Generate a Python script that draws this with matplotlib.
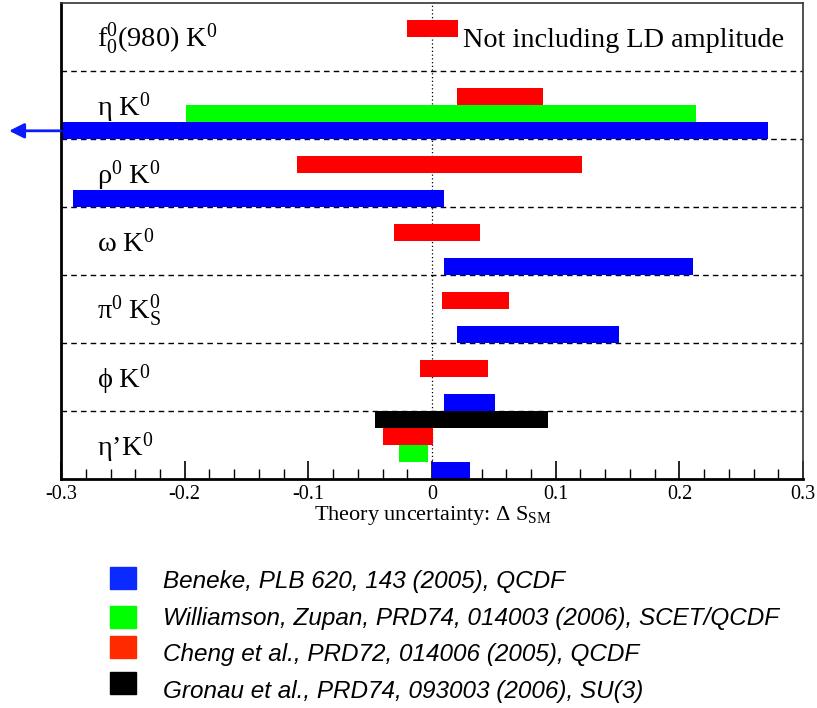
#!/usr/bin/env python3
"""Theory uncertainty Delta S_SM for b -> s penguin modes."""

import matplotlib

matplotlib.use("Agg")

import matplotlib.pyplot as plt
from matplotlib.patches import Rectangle

# rows from top to bottom
MODES = [
    r"$\mathregular{f_0^0(980)\ K^0}$",
    r"$\mathregular{η\ K^0}$",
    r"$\mathregular{ρ^0\ K^0}$",
    r"$\mathregular{ω\ K^0}$",
    r"$\mathregular{π^0\ K_S^0}$",
    r"$\mathregular{ϕ\ K^0}$",
    r"$\mathregular{η’K^0}$",
]

# (low, high) ranges per mode, None where the paper gives nothing
GRONAU = [None, None, None, None, None, None, (-0.046, 0.094)]
CHENG = [(-0.020, 0.021), (0.020, 0.090), (-0.109, 0.121), (-0.031, 0.039),
         (0.008, 0.062), (-0.010, 0.045), (-0.040, 0.001)]
WILLIAMSON = [None, (-0.199, 0.213), None, None, None, None, (-0.027, -0.003)]
BENEKE = [None, (-0.36, 0.272), (-0.290, 0.010), (0.010, 0.211),
          (0.020, 0.151), (0.010, 0.051), (0.000, 0.031)]

SOURCES = [
    ("Gronau et al., PRD74, 093003 (2006), SU(3)", GRONAU, "black", "black"),
    ("Cheng et al., PRD72, 014006 (2005), QCDF", CHENG, "#ff0000", "#ff2a00"),
    ("Williamson, Zupan, PRD74, 014003 (2006), SCET/QCDF", WILLIAMSON, "#00ff00", "#00ff00"),
    ("Beneke, PLB 620, 143 (2005), QCDF", BENEKE, "#0000ff", "#0a2aff"),
]
LEGEND_ORDER = [3, 2, 1, 0]

plt.rcParams.update({
    "font.family": "Liberation Serif",
    "mathtext.fontset": "custom",
    "mathtext.rm": "Liberation Serif",
    "mathtext.it": "Liberation Serif:italic",
    "mathtext.default": "regular",
})

fig = plt.figure(figsize=(8.17, 7.08), dpi=100)
ax = fig.add_axes([0.0747, 0.3235, 0.9083, 0.6723])

slot_h = 0.25
for slot, (_, ranges, color, _) in enumerate(SOURCES):
    for row, rng in enumerate(ranges):
        if rng is None:
            continue
        lo, hi = rng
        ax.barh(row + slot * slot_h, hi - lo, left=lo, height=slot_h,
                align="edge", color=color, linewidth=0, zorder=2)

for row in range(1, len(MODES)):
    ax.axhline(row, color="black", linestyle=(0, (4, 3)), linewidth=1.0, zorder=1)
ax.axvline(0, color="black", linestyle=(0, (1, 2)), linewidth=0.9, zorder=1)

for row, label in enumerate(MODES):
    ax.text(-0.271, row + 0.65, label, fontsize=20.4, va="baseline", ha="left")

ax.text(0.025, 0.647, "Not including LD amplitude", fontsize=20.3,
        va="baseline", ha="left")

# Beneke eta K0 runs off the left edge
ax.annotate("", xy=(-0.342, 1.88), xytext=(-0.3, 1.88), xycoords="data",
            annotation_clip=False,
            arrowprops=dict(arrowstyle="-|>,head_length=0.9,head_width=0.45",
                            color="#0a1aff", linewidth=2, shrinkA=0, shrinkB=0))

ax.set_xlim(-0.3, 0.3)
ax.set_ylim(len(MODES), 0)
ax.set_yticks([])
ax.set_xticks([-0.3, -0.2, -0.1, 0, 0.1, 0.2, 0.3])
ax.set_xticklabels(["-0.3", "-0.2", "-0.1", "0", "0.1", "0.2", "0.3"])
ax.set_xticks([x / 100 for x in range(-30, 31, 2)], minor=True)
ax.tick_params(axis="x", which="major", direction="in", length=13, width=1.2,
               labelsize=14.5, pad=4)
ax.tick_params(axis="x", which="minor", direction="in", length=7, width=1.0)
fig.text(0.530, 0.2655, r"Theory uncertainty: $\mathregular{Δ\ S_{SM}}$",
         fontsize=16, va="baseline", ha="center")

for side in ("left", "bottom"):
    ax.spines[side].set_linewidth(2.0)
for side in ("top", "right"):
    ax.spines[side].set_linewidth(1.2)
    ax.spines[side].set_color("#333333")

# legend below the frame
swatch_bottoms = [0.1681, 0.1130, 0.0706, 0.0198]
text_baselines = [0.1695, 0.1172, 0.0664, 0.0141]
for yb, yt, idx in zip(swatch_bottoms, text_baselines, LEGEND_ORDER):
    name, _, _, swatch = SOURCES[idx]
    fig.patches.append(Rectangle((0.1346, yb), 0.0318, 0.0311,
                                 transform=fig.transFigure, color=swatch))
    fig.text(0.1995, yt, name, fontsize=17.5, style="italic",
             family="Liberation Sans", va="baseline", ha="left")

fig.savefig("out.png", dpi=100)
